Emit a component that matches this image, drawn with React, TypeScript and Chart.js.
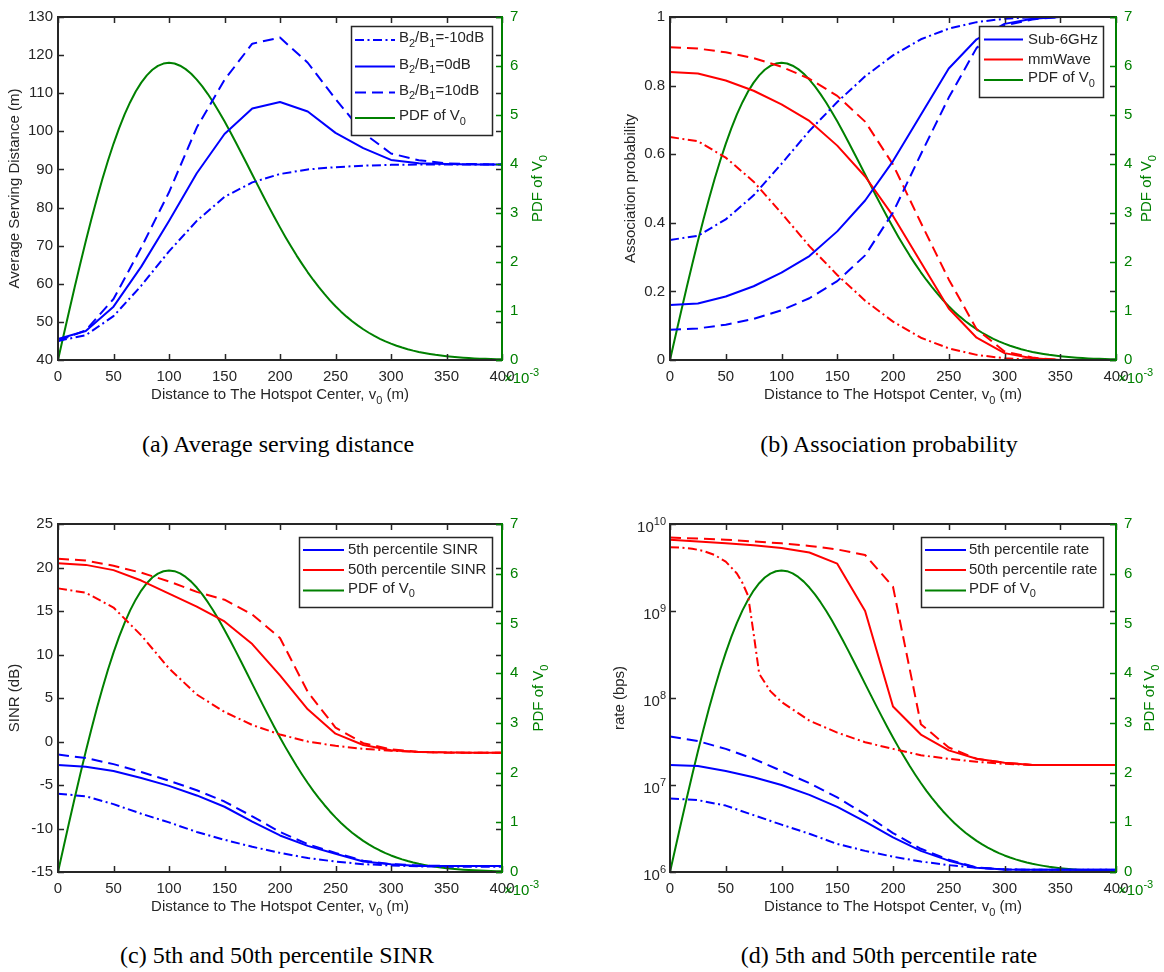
import React, { useEffect, useRef } from 'react';
import { Chart, registerables } from 'chart.js';

Chart.register(...registerables);

// ---------------- data ----------------
const distances = [0, 25, 50, 75, 100, 125, 150, 175, 200, 225, 250, 275, 300, 325, 350, 375, 400];
const pdfDistances = [
  0, 5, 10, 15, 20, 25, 30, 35, 40, 45, 50, 55, 60, 65, 70, 75, 80, 85, 90, 95,
  100, 105, 110, 115, 120, 125, 130, 135, 140, 145, 150, 155, 160, 165, 170, 175, 180, 185, 190, 195,
  200, 205, 210, 215, 220, 225, 230, 235, 240, 245, 250, 255, 260, 265, 270, 275, 280, 285, 290, 295,
  300, 305, 310, 315, 320, 325, 330, 335, 340, 345, 350, 355, 360, 365, 370, 375, 380, 385, 390, 395, 400,
];
// PDF of V0, in units of 1e-3
const pdfV0 = [
  0, 0.499, 0.995, 1.483, 1.96, 2.423, 2.868, 3.292, 3.692, 4.067, 4.412, 4.728, 5.012, 5.262, 5.478, 5.661, 5.809, 5.923, 6.003, 6.05,
  6.065, 6.051, 6.006, 5.936, 5.841, 5.722, 5.584, 5.427, 5.254, 5.068, 4.87, 4.663, 4.448, 4.229, 4.009, 3.785, 3.563, 3.342, 3.125, 2.913,
  2.707, 2.507, 2.316, 2.131, 1.957, 1.79, 1.633, 1.486, 1.348, 1.218, 1.098, 0.987, 0.885, 0.791, 0.706, 0.627, 0.556, 0.491, 0.433, 0.38,
  0.333, 0.291, 0.254, 0.221, 0.191, 0.165, 0.143, 0.123, 0.105, 0.09, 0.077, 0.065, 0.055, 0.047, 0.039, 0.033, 0.028, 0.023, 0.019, 0.016, 0.013,
];

// (a) average serving distance (m)
const servDistM10dB = [45.0, 46.5, 51.5, 59.5, 68.5, 76.5, 82.8, 86.6, 88.8, 90.0, 90.6, 91.0, 91.2, 91.3, 91.3, 91.3, 91.3];
const servDist0dB = [45.5, 47.6, 54.0, 64.5, 76.5, 89.0, 99.3, 106.0, 107.7, 105.2, 99.6, 95.6, 92.5, 91.6, 91.4, 91.3, 91.3];
const servDist10dB = [45.0, 47.8, 56.0, 69.5, 84.0, 101.0, 113.5, 123.0, 124.6, 118.0, 108.5, 99.6, 94.2, 92.4, 91.6, 91.4, 91.3];

// (b) association probability
const sub6M10dB = [0.35, 0.362, 0.41, 0.48, 0.572, 0.668, 0.752, 0.827, 0.888, 0.935, 0.966, 0.985, 0.995, 0.999, 1.0, 1.0, 1.0];
const sub6_0dB = [0.16, 0.165, 0.185, 0.215, 0.255, 0.303, 0.375, 0.465, 0.58, 0.715, 0.85, 0.935, 0.98, 0.995, 1.0, 1.0, 1.0];
const sub6_10dB = [0.088, 0.092, 0.103, 0.12, 0.145, 0.18, 0.23, 0.305, 0.43, 0.6, 0.765, 0.91, 0.975, 0.993, 1.0, 1.0, 1.0];
const mmM10dB = [0.65, 0.638, 0.59, 0.52, 0.428, 0.332, 0.248, 0.173, 0.112, 0.065, 0.034, 0.015, 0.005, 0.001, 0, 0, 0];
const mm0dB = [0.84, 0.835, 0.815, 0.785, 0.745, 0.697, 0.625, 0.535, 0.42, 0.285, 0.15, 0.065, 0.02, 0.005, 0, 0, 0];
const mm10dB = [0.912, 0.908, 0.897, 0.88, 0.855, 0.82, 0.77, 0.695, 0.57, 0.4, 0.235, 0.09, 0.025, 0.007, 0, 0, 0];

// (c) SINR (dB)
const sinr50M10dB = [17.6, 17.1, 15.4, 12.2, 8.4, 5.4, 3.4, 1.9, 0.8, 0.0, -0.5, -0.85, -1.05, -1.2, -1.25, -1.3, -1.3];
const sinr50_0dB = [20.5, 20.3, 19.7, 18.5, 17.0, 15.5, 13.8, 11.2, 7.6, 3.7, 0.9, -0.4, -1.0, -1.2, -1.25, -1.3, -1.3];
const sinr50_10dB = [21.0, 20.8, 20.2, 19.4, 18.4, 17.2, 16.3, 14.6, 11.9, 5.7, 1.6, -0.2, -0.9, -1.2, -1.3, -1.3, -1.3];
const sinr5M10dB = [-6.0, -6.3, -7.2, -8.3, -9.3, -10.4, -11.3, -12.1, -12.8, -13.4, -13.8, -14.1, -14.25, -14.35, -14.4, -14.4, -14.4];
const sinr5_0dB = [-2.7, -2.9, -3.4, -4.2, -5.1, -6.2, -7.5, -9.2, -10.8, -12.0, -12.9, -13.8, -14.1, -14.3, -14.3, -14.3, -14.3];
const sinr5_10dB = [-1.5, -1.9, -2.6, -3.5, -4.5, -5.6, -6.9, -8.6, -10.4, -11.8, -12.8, -13.7, -14.1, -14.25, -14.3, -14.3, -14.3];

// (d) rate (bps)
const rate50_0dB = [6.6e9, 6.3e9, 6.0e9, 5.7e9, 5.3e9, 4.7e9, 3.5e9, 1.0e9, 8.0e7, 3.8e7, 2.5e7, 2.0e7, 1.8e7, 1.7e7, 1.7e7, 1.7e7, 1.7e7];
const rate50_10dB = [7.0e9, 6.8e9, 6.6e9, 6.3e9, 6.0e9, 5.6e9, 5.1e9, 4.4e9, 1.9e9, 5.0e7, 2.7e7, 2.0e7, 1.8e7, 1.7e7, 1.7e7, 1.7e7, 1.7e7];
const rate50M10Distances = [0, 10, 20, 30, 40, 50, 60, 65, 70, 75, 80, 90, 100, 125, 150, 175, 200, 225, 250, 275, 300, 325, 350, 375, 400];
const rate50M10dB = [5.4e9, 5.35e9, 5.2e9, 4.9e9, 4.4e9, 3.7e9, 2.7e9, 2.1e9, 1.5e9, 5.5e8, 1.9e8, 1.2e8, 9.0e7, 5.5e7, 4.0e7, 3.1e7, 2.6e7, 2.2e7, 2.0e7, 1.85e7, 1.75e7, 1.7e7, 1.7e7, 1.7e7, 1.7e7];
const rate5_0dB = [1.7e7, 1.65e7, 1.45e7, 1.23e7, 1.0e7, 7.7e6, 5.6e6, 3.8e6, 2.5e6, 1.75e6, 1.35e6, 1.12e6, 1.07e6, 1.06e6, 1.06e6, 1.06e6, 1.06e6];
const rate5_10dB = [3.6e7, 3.2e7, 2.6e7, 2.0e7, 1.45e7, 1.05e7, 7.2e6, 4.6e6, 2.8e6, 1.85e6, 1.38e6, 1.13e6, 1.07e6, 1.06e6, 1.06e6, 1.06e6, 1.06e6];
const rate5M10dB = [7.0e6, 6.7e6, 5.8e6, 4.5e6, 3.5e6, 2.75e6, 2.1e6, 1.75e6, 1.5e6, 1.32e6, 1.2e6, 1.12e6, 1.07e6, 1.06e6, 1.06e6, 1.06e6, 1.06e6];

// ticks
const xTickValues = [0, 50, 100, 150, 200, 250, 300, 350, 400];
const pdfTickValues = [0, 1, 2, 3, 4, 5, 6, 7];
const servTickValues = [40, 50, 60, 70, 80, 90, 100, 110, 120, 130];
const assocTickValues = [0, 0.2, 0.4, 0.6, 0.8, 1];
const sinrTickValues = [-15, -10, -5, 0, 5, 10, 15, 20, 25];
const rateTickValues = [1e6, 1e7, 1e8, 1e9, 1e10];

// ---------------- styles ----------------
const FONT = '"Liberation Sans", Arial, Helvetica, sans-serif';
const SERIF = '"Liberation Serif", "Times New Roman", Times, serif';
const AXIS = '#262626';
const GREEN = '#008000';
const BLUE = '#0000ff';
const RED = '#ff0000';
const SOLID: number[] = [];
const DASHED = [11, 6];
const DASHDOT = [9, 3.5, 2, 3.5];
const TICK = 6;

type Seg = { t: string; k: 'n' | 'sub' | 'sup' };
function parseRich(s: string): Seg[] {
  const out: Seg[] = [];
  let buf = '';
  let i = 0;
  while (i < s.length) {
    const c = s[i];
    if (c === '_' || c === '^') {
      if (buf) { out.push({ t: buf, k: 'n' }); buf = ''; }
      let t = '';
      if (s[i + 1] === '{') {
        const j = s.indexOf('}', i + 2);
        t = s.slice(i + 2, j);
        i = j + 1;
      } else {
        t = s[i + 1];
        i += 2;
      }
      out.push({ t, k: c === '_' ? 'sub' : 'sup' });
    } else {
      buf += c;
      i++;
    }
  }
  if (buf) out.push({ t: buf, k: 'n' });
  return out;
}

function drawRich(ctx: CanvasRenderingContext2D, s: string, x: number, y: number, align: 'left' | 'center' | 'right', size: number, color: string) {
  const segs = parseRich(s);
  const small = Math.round(size * 0.75);
  const fontFor = (k: string) => `${k === 'n' ? size : small}px ${FONT}`;
  let w = 0;
  for (const sg of segs) { ctx.font = fontFor(sg.k); w += ctx.measureText(sg.t).width; }
  let cx = align === 'left' ? x : align === 'center' ? x - w / 2 : x - w;
  ctx.fillStyle = color;
  ctx.textBaseline = 'middle';
  ctx.textAlign = 'left';
  for (const sg of segs) {
    ctx.font = fontFor(sg.k);
    const dy = sg.k === 'sub' ? size * 0.38 : sg.k === 'sup' ? -size * 0.42 : 0;
    ctx.fillText(sg.t, cx, y + dy);
    cx += ctx.measureText(sg.t).width;
  }
}

interface Series { x: number[]; y: number[]; color: string; dash: number[]; axis: 'y' | 'y1' }
interface LegendRow { label: string; color: string; dash: number[] }
interface PanelSpec {
  key: string;
  left: number; top: number; width: number; height: number;
  area: { l: number; r: number; t: number; b: number };
  yTitle: string; yTitleX: number; y1TitleX: number;
  yMin: number; yMax: number; yTicks: number[]; yLog: boolean;
  series: Series[];
  legend: { x: number; y: number; w: number; h: number; rowY: number[]; x0: number; x1: number; tx: number; rows: LegendRow[] };
  caption: string; captionX: number; captionY: number;
}

const pdfSeries: Series = { x: pdfDistances, y: pdfV0, color: GREEN, dash: SOLID, axis: 'y1' };
const pdfRow: LegendRow = { label: 'PDF of V_0', color: GREEN, dash: SOLID };

const panels: PanelSpec[] = [
  {
    key: 'a', left: 0, top: 0, width: 582, height: 420,
    area: { l: 58, r: 502, t: 13, b: 360 },
    yTitle: 'Average Serving Distance (m)', yTitleX: 15, y1TitleX: 538,
    yMin: 40, yMax: 130, yTicks: servTickValues, yLog: false,
    series: [
      { x: distances, y: servDistM10dB, color: BLUE, dash: DASHDOT, axis: 'y' },
      { x: distances, y: servDist0dB, color: BLUE, dash: SOLID, axis: 'y' },
      { x: distances, y: servDist10dB, color: BLUE, dash: DASHED, axis: 'y' },
      pdfSeries,
    ],
    legend: {
      x: 351, y: 26, w: 141, h: 109, rowY: [40, 66.5, 92.5, 118], x0: 355, x1: 395, tx: 399,
      rows: [
        { label: 'B_2/B_1=-10dB', color: BLUE, dash: DASHDOT },
        { label: 'B_2/B_1=0dB', color: BLUE, dash: SOLID },
        { label: 'B_2/B_1=10dB', color: BLUE, dash: DASHED },
        pdfRow,
      ],
    },
    caption: '(a) Average serving distance', captionX: 278, captionY: 444,
  },
  {
    key: 'b', left: 582, top: 0, width: 582, height: 420,
    area: { l: 88, r: 534, t: 13, b: 360 },
    yTitle: 'Association probability', yTitleX: 49, y1TitleX: 565,
    yMin: 0, yMax: 1, yTicks: assocTickValues, yLog: false,
    series: [
      { x: distances, y: sub6M10dB, color: BLUE, dash: DASHDOT, axis: 'y' },
      { x: distances, y: sub6_0dB, color: BLUE, dash: SOLID, axis: 'y' },
      { x: distances, y: sub6_10dB, color: BLUE, dash: DASHED, axis: 'y' },
      { x: distances, y: mmM10dB, color: RED, dash: DASHDOT, axis: 'y' },
      { x: distances, y: mm0dB, color: RED, dash: SOLID, axis: 'y' },
      { x: distances, y: mm10dB, color: RED, dash: DASHED, axis: 'y' },
      pdfSeries,
    ],
    legend: {
      x: 397, y: 26, w: 124, h: 71, rowY: [39.5, 59.5, 80], x0: 402, x1: 441, tx: 446,
      rows: [
        { label: 'Sub-6GHz', color: BLUE, dash: SOLID },
        { label: 'mmWave', color: RED, dash: SOLID },
        pdfRow,
      ],
    },
    caption: '(b) Association probability', captionX: 889, captionY: 444,
  },
  {
    key: 'c', left: 0, top: 500, width: 582, height: 420,
    area: { l: 58, r: 502, t: 24, b: 372 },
    yTitle: 'SINR (dB)', yTitleX: 15, y1TitleX: 539,
    yMin: -15, yMax: 25, yTicks: sinrTickValues, yLog: false,
    series: [
      { x: distances, y: sinr5M10dB, color: BLUE, dash: DASHDOT, axis: 'y' },
      { x: distances, y: sinr5_0dB, color: BLUE, dash: SOLID, axis: 'y' },
      { x: distances, y: sinr5_10dB, color: BLUE, dash: DASHED, axis: 'y' },
      { x: distances, y: sinr50M10dB, color: RED, dash: DASHDOT, axis: 'y' },
      { x: distances, y: sinr50_0dB, color: RED, dash: SOLID, axis: 'y' },
      { x: distances, y: sinr50_10dB, color: RED, dash: DASHED, axis: 'y' },
      pdfSeries,
    ],
    legend: {
      x: 299, y: 37, w: 193, h: 70, rowY: [50, 70, 90.5], x0: 303, x1: 344, tx: 348,
      rows: [
        { label: '5th percentile SINR', color: BLUE, dash: SOLID },
        { label: '50th percentile SINR', color: RED, dash: SOLID },
        pdfRow,
      ],
    },
    caption: '(c) 5th and 50th percentile SINR', captionX: 277, captionY: 955,
  },
  {
    key: 'd', left: 582, top: 500, width: 582, height: 420,
    area: { l: 88, r: 534, t: 24, b: 372 },
    yTitle: 'rate (bps)', yTitleX: 38, y1TitleX: 568,
    yMin: 1e6, yMax: 1e10, yTicks: rateTickValues, yLog: true,
    series: [
      { x: distances, y: rate5M10dB, color: BLUE, dash: DASHDOT, axis: 'y' },
      { x: distances, y: rate5_0dB, color: BLUE, dash: SOLID, axis: 'y' },
      { x: distances, y: rate5_10dB, color: BLUE, dash: DASHED, axis: 'y' },
      { x: rate50M10Distances, y: rate50M10dB, color: RED, dash: DASHDOT, axis: 'y' },
      { x: distances, y: rate50_0dB, color: RED, dash: SOLID, axis: 'y' },
      { x: distances, y: rate50_10dB, color: RED, dash: DASHED, axis: 'y' },
      pdfSeries,
    ],
    legend: {
      x: 339, y: 37, w: 182, h: 70, rowY: [50, 70, 90.5], x0: 343, x1: 384, tx: 387,
      rows: [
        { label: '5th percentile rate', color: BLUE, dash: SOLID },
        { label: '50th percentile rate', color: RED, dash: SOLID },
        pdfRow,
      ],
    },
    caption: '(d) 5th and 50th percentile rate', captionX: 889, captionY: 955,
  },
];

function decorPlugin(p: PanelSpec) {
  return {
    id: 'matlabDecor' + p.key,
    afterDraw(chart: any) {
      const ctx: CanvasRenderingContext2D = chart.ctx;
      const { left, right, top, bottom } = chart.chartArea;
      const xs = chart.scales.x;
      const ys = chart.scales.y;
      const y1 = chart.scales.y1;
      ctx.save();
      ctx.setLineDash([]);
      // tick marks (inward)
      ctx.strokeStyle = AXIS;
      ctx.lineWidth = 1.5;
      ctx.beginPath();
      for (const t of xs.ticks) {
        const px = Math.round(xs.getPixelForValue(t.value)) + 0.5;
        ctx.moveTo(px, bottom); ctx.lineTo(px, bottom - TICK);
        ctx.moveTo(px, top); ctx.lineTo(px, top + TICK);
      }
      for (const t of ys.ticks) {
        const py = Math.round(ys.getPixelForValue(t.value)) + 0.5;
        ctx.moveTo(left, py); ctx.lineTo(left + TICK, py);
        ctx.moveTo(right, py); ctx.lineTo(right - TICK, py);
      }
      ctx.stroke();
      // box
      ctx.lineWidth = 2;
      ctx.beginPath();
      ctx.moveTo(right, top); ctx.lineTo(left, top); ctx.lineTo(left, bottom); ctx.lineTo(right, bottom);
      ctx.stroke();
      // right green axis
      ctx.strokeStyle = GREEN;
      ctx.beginPath();
      ctx.moveTo(right, top - 1); ctx.lineTo(right, bottom + 1);
      ctx.stroke();
      ctx.lineWidth = 1.5;
      ctx.beginPath();
      for (const t of y1.ticks) {
        const py = Math.round(y1.getPixelForValue(t.value)) + 0.5;
        ctx.moveTo(right, py); ctx.lineTo(right - TICK, py);
      }
      ctx.stroke();

      // log tick labels
      if (p.yLog) {
        for (const t of ys.ticks) {
          const py = ys.getPixelForValue(t.value);
          const e = Math.round(Math.log10(t.value));
          drawRich(ctx, `10^{${e}}`, left - 4, py + 4, 'right', 15, AXIS);
        }
      }
      // x10^-3
      drawRich(ctx, '\u00d710^{-3}', right + 2, bottom + 19, 'left', 15, GREEN);

      // titles
      drawRich(ctx, 'Distance to The Hotspot Center, v_0 (m)', (left + right) / 2, bottom + 35, 'center', 15, AXIS);
      ctx.save();
      ctx.translate(p.yTitleX, (top + bottom) / 2);
      ctx.rotate(-Math.PI / 2);
      drawRich(ctx, p.yTitle, 0, 0, 'center', 15, AXIS);
      ctx.restore();
      ctx.save();
      ctx.translate(p.y1TitleX, (top + bottom) / 2);
      ctx.rotate(-Math.PI / 2);
      drawRich(ctx, 'PDF of V_0', 0, 0, 'center', 15, GREEN);
      ctx.restore();

      // legend
      const lg = p.legend;
      ctx.fillStyle = '#ffffff';
      ctx.fillRect(lg.x, lg.y, lg.w, lg.h);
      ctx.strokeStyle = AXIS;
      ctx.lineWidth = 1.5;
      ctx.strokeRect(lg.x + 0.5, lg.y + 0.5, lg.w, lg.h);
      lg.rows.forEach((row, i) => {
        const y = lg.rowY[i];
        ctx.setLineDash(row.dash);
        ctx.strokeStyle = row.color;
        ctx.lineWidth = 2;
        ctx.beginPath();
        ctx.moveTo(lg.x0, y); ctx.lineTo(lg.x1, y);
        ctx.stroke();
        ctx.setLineDash([]);
        drawRich(ctx, row.label, lg.tx, y - (row.label.includes('_') ? 2 : 0), 'left', 15, AXIS);
      });
      ctx.restore();
    },
  };
}

function buildConfig(p: PanelSpec): any {
  const datasets = p.series.map((s) => ({
    data: s.x.map((x, i) => ({ x, y: s.y[i] })),
    borderColor: s.color,
    backgroundColor: s.color,
    borderWidth: 2,
    borderDash: s.dash,
    borderJoinStyle: 'round',
    pointRadius: 0,
    tension: 0,
    fill: false,
    yAxisID: s.axis,
    clip: false,
  }));
  const tickFont = { family: FONT, size: 15 };
  const yScale: any = {
    type: p.yLog ? 'logarithmic' : 'linear',
    position: 'left',
    min: p.yMin,
    max: p.yMax,
    grid: { display: false, drawTicks: false },
    border: { display: false },
    afterBuildTicks: (s: any) => { s.ticks = p.yTicks.map((value) => ({ value })); },
    afterFit: (s: any) => { s.width = p.area.l; },
    ticks: {
      display: !p.yLog,
      color: AXIS,
      font: tickFont,
      padding: 5,
      autoSkip: false,
      callback: (v: number) => String(Math.round(v * 10) / 10),
    },
  };
  return {
    type: 'line',
    data: { datasets },
    options: {
      animation: false,
      responsive: false,
      maintainAspectRatio: false,
      events: [],
      layout: { autoPadding: false, padding: { left: 0, right: 0, top: p.area.t, bottom: 0 } },
      plugins: { legend: { display: false }, tooltip: { enabled: false }, title: { display: false } },
      scales: {
        x: {
          type: 'linear',
          position: 'bottom',
          min: 0,
          max: 400,
          grid: { display: false, drawTicks: false },
          border: { display: false },
          afterBuildTicks: (s: any) => { s.ticks = xTickValues.map((value) => ({ value })); },
          afterFit: (s: any) => { s.height = p.height - p.area.b; },
          ticks: { color: AXIS, font: tickFont, padding: 8, maxRotation: 0, autoSkip: false, callback: (v: number) => String(v) },
        },
        y: yScale,
        y1: {
          type: 'linear',
          position: 'right',
          min: 0,
          max: 7,
          grid: { display: false, drawTicks: false },
          border: { display: false },
          afterBuildTicks: (s: any) => { s.ticks = pdfTickValues.map((value) => ({ value })); },
          afterFit: (s: any) => { s.width = p.width - p.area.r; },
          ticks: { color: GREEN, font: tickFont, padding: 8, autoSkip: false, callback: (v: number) => String(v) },
        },
      },
    },
    plugins: [decorPlugin(p)],
  };
}

function Panel({ spec }: { spec: PanelSpec }) {
  const ref = useRef<HTMLCanvasElement>(null);
  useEffect(() => {
    const chart = new Chart(ref.current as HTMLCanvasElement, buildConfig(spec));
    return () => chart.destroy();
  }, [spec]);
  return (
    <canvas
      ref={ref}
      width={spec.width}
      height={spec.height}
      style={{ position: 'absolute', left: spec.left, top: spec.top, width: spec.width, height: spec.height }}
    />
  );
}

export default function App() {
  return (
    <div style={{ position: 'absolute', left: 0, top: 0, width: 1164, height: 972, background: '#ffffff', overflow: 'hidden' }}>
      {panels.map((p) => (
        <Panel key={p.key} spec={p} />
      ))}
      {panels.map((p) => (
        <div
          key={'cap' + p.key}
          style={{
            position: 'absolute',
            left: p.captionX - 300,
            top: p.captionY - 14,
            width: 600,
            height: 28,
            lineHeight: '28px',
            textAlign: 'center',
            fontFamily: SERIF,
            fontSize: 24,
            color: '#000000',
            whiteSpace: 'nowrap',
          }}
        >
          {p.caption}
        </div>
      ))}
    </div>
  );
}
